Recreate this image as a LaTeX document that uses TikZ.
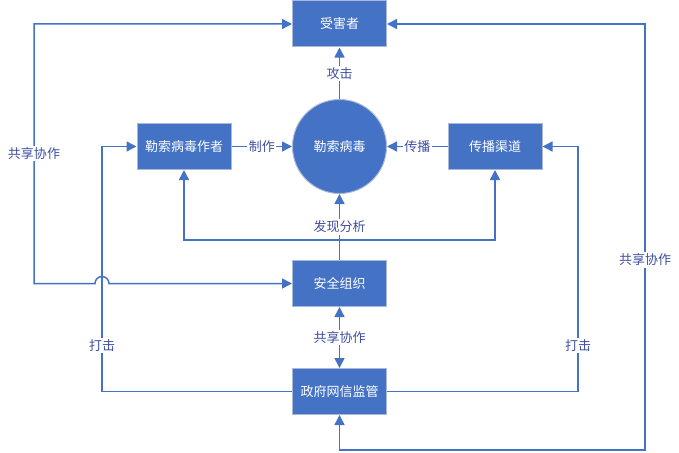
\documentclass[tikz,border=0pt]{standalone}
\usepackage{fontspec}
\setmainfont{Noto Sans CJK SC}
\usetikzlibrary{arrows.meta}
\definecolor{boxblue}{RGB}{68,114,196}
\definecolor{boxedge}{RGB}{170,185,215}
\definecolor{labelblue}{RGB}{64,80,160}

\begin{document}
\begin{tikzpicture}[x=1pt, y=-1pt,
    main/.style = {draw=boxedge, line width=1pt, fill=boxblue, text=white, minimum width=94pt, minimum height=46pt, inner sep=0pt, font=\fontsize{13}{15}\selectfont},
    virus/.style = {main, circle, minimum size=94pt},
    link/.style = {color=boxblue, line width=1.5pt, -{Triangle[length=10pt,width=10pt]}},
    both/.style = {link, {Triangle[length=10pt,width=10pt]}-{Triangle[length=10pt,width=10pt]}},
    tag/.style = {fill=white, text=labelblue, inner sep=1.5pt, font=\fontsize{13}{15}\selectfont}]
      \useasboundingbox (0,0) rectangle (679,452);
      \node[main] (victim) at (339.5,24) {受害者};
      \node[virus] (virus) at (339.5,146.5) {勒索病毒};
      \node[main] (author) at (184,146.5) {勒索病毒作者};
      \node[main] (channel) at (495,146.5) {传播渠道};
      \node[main] (security) at (339.5,283.5) {安全组织};
      \node[main] (gov) at (339.5,391.5) {政府网信监管};
      \coordinate (split) at (339.5,240);
      \path[link]
      (virus) edge node[tag] {攻击} (victim)
      (author) edge node[tag] {制作} (virus)
      (channel) edge node[tag] {传播} (virus)
      (security) edge node[tag] {发现分析} (virus)
      ;
      \draw[link] (split) -| (author);
      \draw[link] (split) -| (channel);
      \draw[both] (security) -- node[tag] {共享协作} (gov);
      % government strikes back on both sides
      \draw[link] (gov.west) -- (102,391.5) -- node[tag, pos=0.186] {打击} (102,146.5) -- (author.west);
      \draw[link] (gov.east) -- (578,391.5) -- node[tag, pos=0.186] {打击} (578,146.5) -- (channel.west -| channel.east);
      % sharing loops
      \draw[both] (victim.west) -- (34,24) -- node[tag] {共享协作} (34,283.5) -- (95,283.5) arc (180:360:7) -- (security.west);
      \draw[both] (victim.east) -- (645,24) -- node[tag, pos=0.554] {共享协作} (645,450) -- (339.5,450) -- (gov.south);
\end{tikzpicture}
\end{document}
